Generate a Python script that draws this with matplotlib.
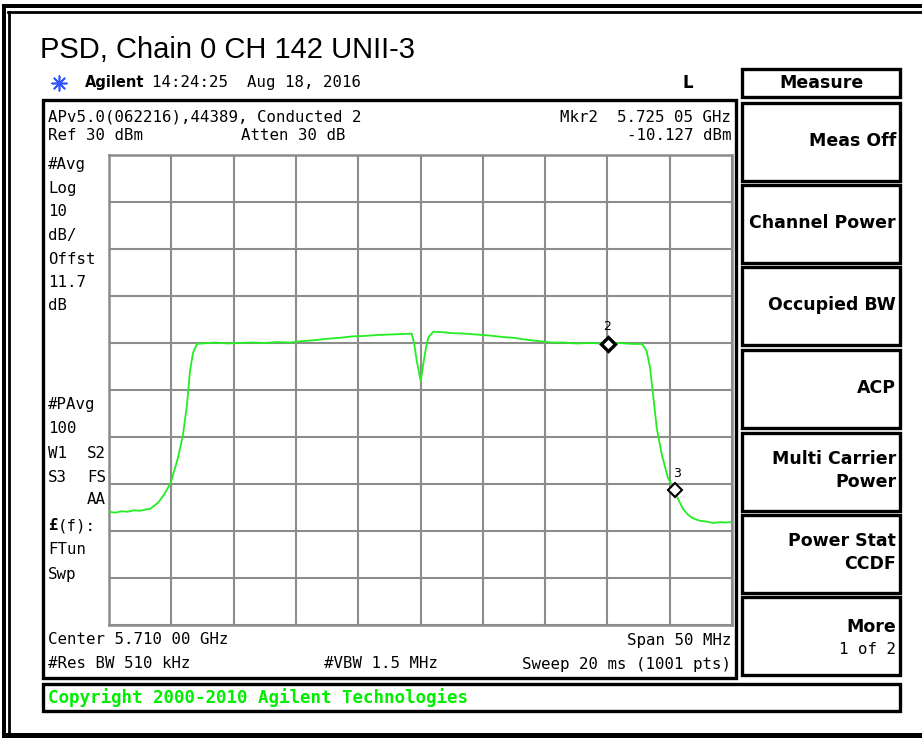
import matplotlib
matplotlib.use("Agg")
import matplotlib.pyplot as plt
from matplotlib.patches import Rectangle
import numpy as np

# ---------------- data ----------------
title = "PSD, Chain 0 CH 142 UNII-3"
trace_freq_ghz = [5.68500, 5.68550, 5.68600, 5.68650, 5.68700, 5.68750, 5.68800, 5.68829,
                  5.68893, 5.68941, 5.68995, 5.69054, 5.69094, 5.69126, 5.69150, 5.69174,
                  5.69206, 5.69250, 5.69350, 5.69450, 5.69550, 5.69650, 5.69750, 5.69850,
                  5.69950, 5.70050, 5.70150, 5.70250, 5.70350, 5.70450, 5.70550, 5.70650,
                  5.70750, 5.70850, 5.70929, 5.70948, 5.70970, 5.70990, 5.71002, 5.71022,
                  5.71044, 5.71063, 5.71103, 5.71180, 5.71250, 5.71350, 5.71450, 5.71550,
                  5.71650, 5.71750, 5.71850, 5.71950, 5.72050, 5.72150, 5.72250, 5.72350,
                  5.72450, 5.72505, 5.72600, 5.72700, 5.72778, 5.72815, 5.72842, 5.72866,
                  5.72896, 5.72936, 5.72986, 5.73026, 5.73060, 5.73107, 5.73150, 5.73187,
                  5.73240, 5.73297, 5.73350, 5.73404, 5.73450, 5.73500]
trace_dbm = [-45.9, -46.1, -45.8, -45.9, -45.6, -45.7, -45.4, -45.3,
             -44.0, -42.3, -39.8, -34.4, -29.5, -23.1, -16.0, -12.1,
             -10.2, -10.1, -9.9, -10.1, -10.0, -9.9, -10.0, -9.8,
             -9.9, -9.6, -9.4, -9.1, -8.9, -8.6, -8.5, -8.3,
             -8.2, -8.1, -8.0, -10.0, -13.8, -16.6, -18.1, -14.5,
             -11.0, -8.8, -7.6, -7.7, -7.9, -8.0, -8.2, -8.4,
             -8.7, -8.9, -9.3, -9.6, -9.9, -9.9, -10.1, -10.0,
             -10.1, -10.1, -10.0, -10.2, -10.2, -11.7, -15.2, -20.9,
             -28.1, -33.7, -38.7, -40.6, -42.8, -45.3, -46.6, -47.3,
             -47.8, -48.0, -48.3, -48.1, -48.2, -48.1]
marker_freq_ghz = [5.72505, 5.73040]
marker_dbm = [-10.127, -41.3]
marker_labels = ["2", "3"]

center_ghz = 5.710
span_ghz = 0.050
ref_dbm = 30
db_per_div = 10

menu_items = ["Meas Off", "Channel Power", "Occupied BW", "ACP",
              "Multi Carrier\nPower", "Power Stat\nCCDF", "More"]

left_labels_top = ["#Avg", "Log", "10", "dB/", "Offst", "11.7", "dB"]
left_labels_bot = ["#PAvg", "100"]

# ---------------- figure ----------------
W, H = 922, 738
fig = plt.figure(figsize=(W / 100, H / 100), dpi=100)
fig.patch.set_facecolor("white")

ov = fig.add_axes([0, 0, 1, 1], zorder=0)
ov.set_xlim(0, W)
ov.set_ylim(H, 0)
ov.axis("off")

mono = "DejaVu Sans Mono"
sans = "DejaVu Sans"
fs_mono = 11.3
fs_menu = 12.5

def rect(x0, y0, x1, y1, lw=2.2, color="black"):
    ov.add_patch(Rectangle((x0, y0), x1 - x0, y1 - y0, fill=False,
                           edgecolor=color, lw=lw))

# outer frame
ov.add_patch(Rectangle((2, 4), W, 4, color="black", lw=0))
ov.plot([8, W], [12, 12], color="black", lw=2.0)
ov.add_patch(Rectangle((2, 4), 3.5, H, color="black", lw=0))
ov.plot([8.5, 8.5], [12, H], color="black", lw=2.0)
ov.add_patch(Rectangle((2, 733), W, 6, color="black", lw=0))

# title
ov.text(40, 50, title, fontsize=21, family="Liberation Sans", va="center", ha="left")

# Agilent line
ov.scatter([59], [83], marker=(8, 2, 0), s=110, color="#3355ff", lw=1.2)
ov.text(85, 83, "Agilent", fontsize=10.5, family=sans, fontweight="bold", va="center")
ov.text(152, 83, "14:24:25  Aug 18, 2016", fontsize=fs_mono, family=mono, va="center")
ov.text(688, 83, "L", fontsize=12, family=sans, fontweight="bold", va="center", ha="center")

# main display box
rect(42.5, 100, 736, 678, lw=2.4)

# header texts
ov.text(48, 117, "APv5.0(062216),44389, Conducted 2", fontsize=fs_mono, family=mono, va="center")
ov.text(731, 117, "Mkr2  5.725 05 GHz", fontsize=fs_mono, family=mono, va="center", ha="right")
ov.text(48, 135, "Ref 30 dBm", fontsize=fs_mono, family=mono, va="center")
ov.text(241, 135, "Atten 30 dB", fontsize=fs_mono, family=mono, va="center")
ov.text(731, 135, "-10.127 dBm", fontsize=fs_mono, family=mono, va="center", ha="right")

# left side annotations
for i, s in enumerate(left_labels_top):
    ov.text(48, 165 + i * 23.5, s, fontsize=fs_mono, family=mono, va="center")
for i, s in enumerate(left_labels_bot):
    ov.text(48, 405 + i * 23.5, s, fontsize=fs_mono, family=mono, va="center")
for y, a, b in [(453, "W1", "S2"), (477, "S3", "FS")]:
    ov.text(48, y, a, fontsize=fs_mono, family=mono, va="center")
    ov.text(106, y, b, fontsize=fs_mono, family=mono, va="center", ha="right")
ov.text(106, 500, "AA", fontsize=fs_mono, family=mono, va="center", ha="right")
ov.text(48, 526, "£", fontsize=fs_mono, family=mono, fontweight="bold", va="center")
ov.text(58, 526, "(f):", fontsize=fs_mono, family=mono, va="center")
ov.text(48, 550, "FTun", fontsize=fs_mono, family=mono, va="center")
ov.text(48, 574, "Swp", fontsize=fs_mono, family=mono, va="center")

# bottom texts
ov.text(48, 640, "Center 5.710 00 GHz", fontsize=fs_mono, family=mono, va="center")
ov.text(731, 640, "Span 50 MHz", fontsize=fs_mono, family=mono, va="center", ha="right")
ov.text(48, 664, "#Res BW 510 kHz", fontsize=fs_mono, family=mono, va="center")
ov.text(324, 664, "#VBW 1.5 MHz", fontsize=fs_mono, family=mono, va="center")
ov.text(731, 664, "Sweep 20 ms (1001 pts)", fontsize=fs_mono, family=mono, va="center", ha="right")

# copyright bar
rect(42.5, 684, 900, 711, lw=2.4)
ov.text(48, 697.5, "Copyright 2000-2010 Agilent Technologies", fontsize=12.6, family=mono,
        fontweight="bold", color="#00ee00", va="center")

# menu
rect(742, 69, 900, 97, lw=2.4)
ov.text(821, 83, "Measure", fontsize=fs_menu, family=sans, fontweight="bold", va="center", ha="center")
box_tops = [103, 185, 267, 350, 433, 515, 597]
box_h = 78
for top, label in zip(box_tops, menu_items):
    rect(742, top, 900, top + box_h, lw=2.4)
    lines = label.split("\n")
    if label == "More":
        ov.text(896, 627, "More", fontsize=fs_menu, family=sans, fontweight="bold", va="center", ha="right")
        ov.text(896, 649, "1 of 2", fontsize=fs_mono, family=mono, va="center", ha="right")
    elif len(lines) == 1:
        ov.text(896, top + 38, label, fontsize=fs_menu, family=sans, fontweight="bold",
                va="center", ha="right")
    else:
        ov.text(896, top + 26, lines[0], fontsize=fs_menu, family=sans, fontweight="bold",
                va="center", ha="right")
        ov.text(896, top + 49, lines[1], fontsize=fs_menu, family=sans, fontweight="bold",
                va="center", ha="right")

# ---------------- graticule / trace ----------------
gl, gr, gt, gb = 109, 732, 155, 625
ax = fig.add_axes([gl / W, 1 - gb / H, (gr - gl) / W, (gb - gt) / H], zorder=1)
f0 = center_ghz - span_ghz / 2
f1 = center_ghz + span_ghz / 2
bottom_db = ref_dbm - 10 * db_per_div
ax.set_xlim(f0, f1)
ax.set_ylim(bottom_db, ref_dbm)
ax.set_xticks(np.linspace(f0, f1, 11))
ax.set_yticks(np.arange(bottom_db, ref_dbm + 1, db_per_div))
ax.grid(True, color="#8c8c8c", lw=1.5)
ax.tick_params(length=0, labelbottom=False, labelleft=False)
for sp in ax.spines.values():
    sp.set_color("#8c8c8c")
    sp.set_linewidth(1.8)
ax.set_axisbelow(True)

ax.plot(trace_freq_ghz, trace_dbm, color="#22ee22", lw=1.3, zorder=3)

for f, d, mew in zip(marker_freq_ghz, marker_dbm, [2.4, 1.5]):
    ax.plot([f], [d], marker="D", ms=7, mfc="white", mec="black", mew=mew, zorder=5)
for f, d, lab, dx in zip(marker_freq_ghz, marker_dbm, marker_labels, [-0.0001, 0.0002]):
    ax.text(f + dx, d + 3.6, lab, fontsize=9, family=sans, ha="center", va="center", zorder=6)

fig.savefig("out.png", dpi=100)
